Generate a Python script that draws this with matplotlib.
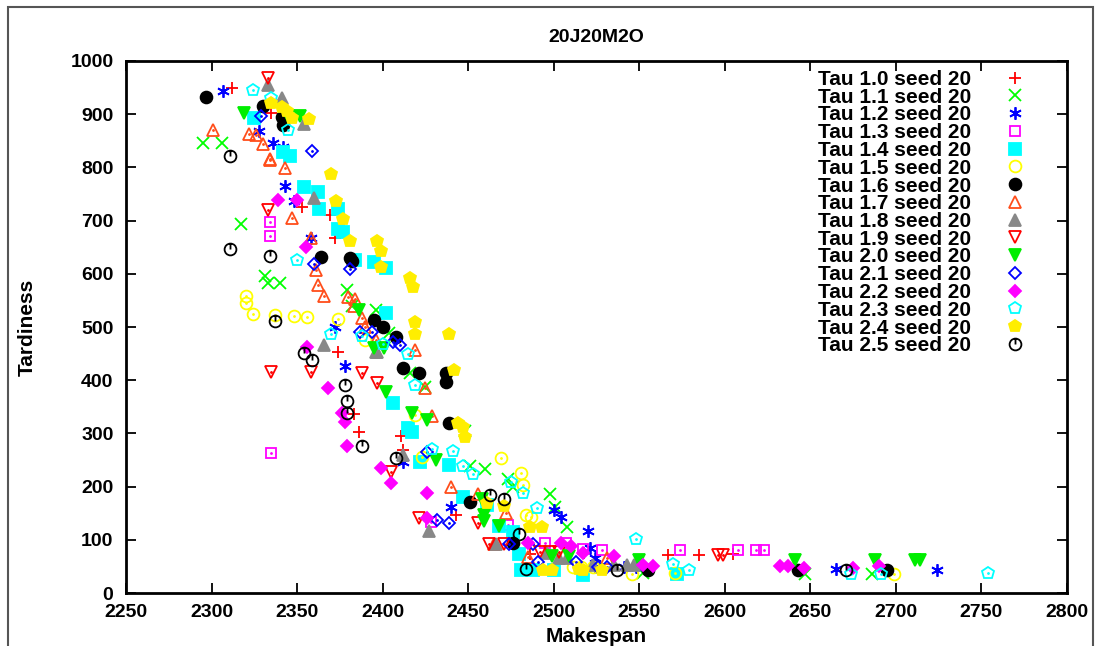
"""
Scatter of makespan vs tardiness for the 20J20M2O instance, one series per tau
"""
import matplotlib
matplotlib.use("Agg")
import matplotlib.pyplot as plt
from matplotlib.path import Path
from matplotlib.patches import Rectangle

plt.rcParams['font.family'] = ['Liberation Sans', 'DejaVu Sans']
plt.rcParams['font.weight'] = 'bold'

# makespan / tardiness per tau value (seed 20)
mk_10 = [2312, 2335, 2353, 2369, 2372, 2374, 2383, 2386, 2411, 2412, 2443, 2486, 2518, 2567, 2585, 2605]
td_10 = [949, 902, 725, 710, 667, 453, 336, 302, 295, 269, 147, 73, 75, 71, 71, 73]

mk_11 = [2295, 2306, 2317, 2331, 2333, 2340, 2379, 2382, 2396, 2404, 2416, 2425, 2448, 2451, 2460, 2473,
         2476, 2498, 2501, 2508, 2552, 2647, 2686]
td_11 = [846, 846, 694, 596, 583, 583, 570, 540, 532, 489, 413, 387, 304, 239, 233, 214,
         199, 186, 162, 124, 37, 36, 36]

mk_12 = [2307, 2328, 2336, 2342, 2343, 2348, 2358, 2372, 2378, 2412, 2440, 2500, 2504, 2520, 2521, 2524,
         2524, 2541, 2548, 2665, 2724]
td_12 = [943, 868, 846, 838, 765, 737, 667, 500, 427, 246, 162, 156, 143, 117, 85, 66,
         49, 49, 49, 45, 43]

mk_13 = [2334, 2334, 2335, 2428, 2473, 2495, 2507, 2517, 2528, 2574, 2608, 2618, 2623]
td_13 = [697, 671, 263, 134, 128, 94, 94, 82, 81, 80, 80, 80, 80]

mk_14 = [2325, 2342, 2346, 2354, 2362, 2363, 2374, 2374, 2377, 2384, 2395, 2402, 2402, 2406, 2415, 2417,
         2422, 2439, 2447, 2461, 2468, 2476, 2480, 2481, 2488, 2500, 2517, 2572]
td_14 = [893, 829, 822, 763, 754, 722, 722, 684, 679, 626, 622, 611, 526, 357, 310, 302,
         247, 241, 181, 165, 126, 115, 73, 43, 43, 43, 34, 35]

mk_15 = [2320, 2320, 2324, 2337, 2348, 2356, 2374, 2390, 2419, 2423, 2469, 2481, 2482, 2484, 2487, 2511,
         2516, 2523, 2546, 2571, 2699]
td_15 = [558, 545, 524, 522, 521, 518, 515, 475, 335, 256, 254, 225, 203, 147, 143, 48,
         48, 48, 36, 37, 36]

mk_16 = [2297, 2330, 2341, 2342, 2364, 2381, 2382, 2395, 2400, 2408, 2412, 2421, 2437, 2437, 2439, 2451,
         2476, 2555, 2643, 2695]
td_16 = [932, 915, 894, 879, 632, 629, 624, 513, 500, 481, 423, 413, 413, 397, 320, 171,
         94, 43, 44, 43]

mk_17 = [2301, 2322, 2326, 2330, 2334, 2334, 2343, 2347, 2358, 2361, 2362, 2366, 2380, 2383, 2384, 2388,
         2390, 2396, 2419, 2425, 2429, 2440, 2456, 2465, 2472, 2485, 2531]
td_17 = [870, 862, 861, 844, 815, 813, 799, 705, 667, 607, 579, 558, 556, 540, 552, 517,
         500, 475, 457, 385, 333, 200, 186, 92, 150, 68, 65]

mk_18 = [2333, 2341, 2354, 2360, 2366, 2396, 2397, 2412, 2427, 2466, 2496, 2503, 2508, 2523, 2535, 2543, 2547]
td_18 = [955, 930, 882, 742, 466, 453, 453, 259, 117, 92, 75, 65, 65, 52, 52, 52, 52]

mk_19 = [2333, 2333, 2335, 2358, 2388, 2397, 2405, 2421, 2456, 2462, 2471, 2492, 2498, 2503, 2596, 2599]
td_19 = [968, 720, 415, 415, 413, 394, 228, 141, 132, 92, 92, 77, 77, 77, 71, 71]

mk_20 = [2319, 2345, 2352, 2386, 2395, 2401, 2402, 2417, 2426, 2431, 2458, 2459, 2459, 2468, 2499, 2509,
         2550, 2641, 2688, 2711, 2714]
td_20 = [902, 897, 896, 532, 461, 461, 378, 338, 325, 250, 177, 147, 136, 126, 70, 70,
         62, 62, 62, 62, 62]

mk_21 = [2329, 2359, 2360, 2381, 2387, 2394, 2406, 2410, 2426, 2432, 2439, 2474, 2488, 2491, 2513, 2526, 2531]
td_21 = [896, 831, 619, 609, 490, 490, 471, 466, 266, 137, 132, 92, 92, 58, 58, 49, 49]

mk_22 = [2339, 2350, 2355, 2356, 2368, 2376, 2378, 2379, 2399, 2405, 2426, 2426, 2485, 2504, 2510, 2517,
         2535, 2552, 2558, 2632, 2637, 2646, 2675, 2690]
td_22 = [738, 738, 650, 462, 385, 338, 321, 276, 235, 206, 188, 141, 94, 94, 88, 75,
         70, 53, 50, 50, 50, 47, 47, 50]

mk_23 = [2324, 2335, 2345, 2350, 2370, 2388, 2400, 2415, 2419, 2429, 2441, 2447, 2453, 2475, 2482, 2490,
         2548, 2570, 2579, 2674, 2691, 2754]
td_23 = [945, 930, 870, 626, 487, 483, 468, 449, 391, 270, 267, 239, 224, 209, 188, 160,
         101, 54, 43, 36, 36, 37]

mk_24 = [2335, 2341, 2344, 2347, 2357, 2370, 2373, 2377, 2381, 2397, 2399, 2399, 2416, 2418, 2419, 2419,
         2439, 2442, 2444, 2447, 2448, 2461, 2471, 2486, 2493, 2494, 2499, 2515, 2517, 2528]
td_24 = [921, 913, 906, 893, 891, 787, 737, 703, 662, 662, 643, 613, 592, 575, 509, 487,
         487, 420, 320, 312, 293, 169, 164, 124, 124, 43, 43, 45, 43, 43]

mk_25 = [2311, 2311, 2334, 2337, 2354, 2359, 2378, 2379, 2379, 2388, 2408, 2463, 2471, 2480, 2484, 2537, 2671]
td_25 = [822, 647, 634, 511, 451, 438, 391, 361, 338, 276, 253, 184, 177, 111, 46, 43, 43]

taus = ["1.0", "1.1", "1.2", "1.3", "1.4", "1.5", "1.6", "1.7",
        "1.8", "1.9", "2.0", "2.1", "2.2", "2.3", "2.4", "2.5"]
xs = [mk_10, mk_11, mk_12, mk_13, mk_14, mk_15, mk_16, mk_17,
      mk_18, mk_19, mk_20, mk_21, mk_22, mk_23, mk_24, mk_25]
ys = [td_10, td_11, td_12, td_13, td_14, td_15, td_16, td_17,
      td_18, td_19, td_20, td_21, td_22, td_23, td_24, td_25]

# circle with a tick (gnuplot-like point type)
tick_circle = Path.make_compound_path(
    Path.unit_circle(),
    Path([(0, 0), (0, 1)], [Path.MOVETO, Path.LINETO]))

# marker, colour, filled, size, dotted centre
styles = [
    ('+', '#ff0000', True, 9, False),
    ('x', '#00ff00', True, 8, False),
    ((6, 2, 0), '#0000ff', True, 9, False),
    ('s', '#ff00ff', False, 7.5, True),
    ('s', '#00ffff', True, 8.5, False),
    ('o', '#ffff00', False, 8.5, True),
    ('o', '#000000', True, 8.5, False),
    ('^', '#ff4d1a', False, 8.5, True),
    ('^', '#888888', True, 8.5, False),
    ('v', '#ff0000', False, 8.5, True),
    ('v', '#00ee00', True, 8.5, False),
    ('D', '#0000ff', False, 6.5, True),
    ('D', '#ff00ff', True, 6.5, False),
    ('p', '#00ffff', False, 9, True),
    ('p', '#ffee00', True, 9, False),
    (tick_circle, '#000000', False, 8.5, False),
]

fig = plt.figure(figsize=(11, 6.46), dpi=100)
ax = fig.add_axes([0.1145, 0.082, 0.8555, 0.8236])

for tau, x, y, (m, c, filled, ms, dot) in zip(taus, xs, ys, styles):
    ax.plot(x, y, linestyle='none', marker=m, markersize=ms,
            markeredgecolor=c, markerfacecolor=c if filled else 'none',
            markeredgewidth=1.3, label="Tau %s seed 20" % tau)
    if dot:
        ax.plot(x, y, linestyle='none', marker='.', markersize=2, color=c)

ax.set_xlim(2250, 2800)
ax.set_ylim(0, 1000)
ax.set_xticks(range(2250, 2801, 50))
ax.set_yticks(range(0, 1001, 100))
ax.tick_params(direction='in', length=7, width=1.3, top=True, right=True,
               labelsize=14)
ax.tick_params(axis='x', pad=8)
ax.tick_params(axis='y', pad=9)
for s in ax.spines.values():
    s.set_linewidth(2)

ax.set_title("20J20M2O", fontsize=14, fontweight='bold', pad=14)
ax.set_xlabel("Makespan", fontsize=15, fontweight='bold', labelpad=4)
ax.set_ylabel("Tardiness", fontsize=15, fontweight='bold', labelpad=24)

ax.legend(loc='upper right', bbox_to_anchor=(1025 / 1100, 1 - 70 / 646),
          bbox_transform=fig.transFigure, frameon=False, markerfirst=False,
          fontsize=15, labelspacing=-0.06, handlelength=1.0, handletextpad=1.6,
          borderpad=0, borderaxespad=0)

# frame around the whole image (open at the bottom)
fig.patches.append(Rectangle((0.007, -0.01), 0.987, 0.999, transform=fig.transFigure,
                             fill=False, edgecolor='#555555', linewidth=1.5))

plt.savefig("out.png", dpi=100)
